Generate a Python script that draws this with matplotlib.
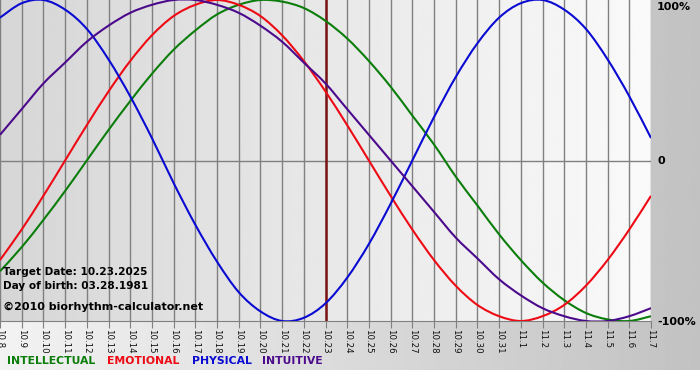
import numpy as np
import matplotlib.pyplot as plt
from matplotlib.path import Path
from matplotlib.patches import PathPatch

# dates on the x axis (10.8 .. 11.7)
days = ['10.8', '10.9', '10.10', '10.11', '10.12', '10.13', '10.14', '10.15',
        '10.16', '10.17', '10.18', '10.19', '10.20', '10.21', '10.22', '10.23',
        '10.24', '10.25', '10.26', '10.27', '10.28', '10.29', '10.30', '10.31',
        '11.1', '11.2', '11.3', '11.4', '11.5', '11.6', '11.7']

# cycle values per day (-1 .. 1)
intellectual = [-0.69, -0.54, -0.37, -0.19, 0.00, 0.19, 0.37, 0.54, 0.69, 0.81,
                0.91, 0.97, 1.00, 0.99, 0.95, 0.87, 0.76, 0.62, 0.46, 0.28,
                0.10, -0.10, -0.28, -0.46, -0.62, -0.76, -0.87, -0.95, -0.99,
                -1.00, -0.97]
emotional = [-0.62, -0.43, -0.22, 0.00, 0.22, 0.43, 0.62, 0.78, 0.90, 0.97,
             1.00, 0.97, 0.90, 0.78, 0.62, 0.43, 0.22, 0.00, -0.22, -0.43,
             -0.62, -0.78, -0.90, -0.97, -1.00, -0.97, -0.90, -0.78, -0.62,
             -0.43, -0.22]
physical = [0.89, 0.98, 1.00, 0.94, 0.82, 0.63, 0.40, 0.14, -0.14, -0.40,
            -0.63, -0.82, -0.94, -1.00, -0.98, -0.89, -0.73, -0.52, -0.27, 0.00,
            0.27, 0.52, 0.73, 0.89, 0.98, 1.00, 0.94, 0.82, 0.63, 0.40, 0.14]
intuitive = [0.16, 0.32, 0.48, 0.61, 0.74, 0.84, 0.92, 0.97, 1.00, 1.00,
             0.97, 0.92, 0.84, 0.74, 0.61, 0.48, 0.32, 0.16, 0.00, -0.16,
             -0.32, -0.48, -0.61, -0.74, -0.84, -0.92, -0.97, -1.00, -1.00,
             -0.97, -0.92]

target_day = '10.23'
info_lines = ['Target Date: 10.23.2025', 'Day of birth: 03.28.1981']
credit = '\u00a92010 biorhythm-calculator.net'
y_labels = ['100%', '0', '-100%']

series = [('INTELLECTUAL', intellectual, '#0a7d0a'),
          ('EMOTIONAL', emotional, '#ee0a14'),
          ('PHYSICAL', physical, '#0a0ad2'),
          ('INTUITIVE', intuitive, '#4b0a8c')]


def smooth_path(xs, ys):
    # curved line through the daily points (Catmull-Rom as cubic Beziers)
    pts = np.column_stack([xs, ys]).astype(float)
    ext = np.vstack([pts[0], pts, pts[-1]])
    verts = [pts[0]]
    codes = [Path.MOVETO]
    for i in range(len(pts) - 1):
        p0, p1, p2, p3 = ext[i], ext[i + 1], ext[i + 2], ext[i + 3]
        verts += [p1 + (p2 - p0) / 6, p2 - (p3 - p1) / 6, p2]
        codes += [Path.CURVE4] * 3
    return Path(verts, codes)


W, H = 700, 380
fig = plt.figure(figsize=(W / 100, H / 100), dpi=100)
fig.patch.set_facecolor('white')

# background band with horizontal gradient (light left -> grey right)
bg = fig.add_axes([0, 10 / H, 1, 370 / H])
bg.imshow(np.linspace(0.95, 0.76, 256)[None, :], cmap='gray', vmin=0, vmax=1,
          aspect='auto', extent=[0, 1, 0, 1])
bg.axis('off')

# plot area
ax = fig.add_axes([0, 1 - 321 / H, 651 / W, 321 / H])
ax.patch.set_alpha(0)
x = np.arange(len(days))
ax.imshow(np.linspace(0.84, 0.98, 256)[None, :], cmap='gray', vmin=0, vmax=1,
          aspect='auto', extent=[x[0], x[-1], -1, 1], zorder=0)
ax.set_xlim(x[0], x[-1])
ax.set_ylim(-1, 1)

ax.set_xticks(x)
ax.set_xticklabels(days, rotation=-90, fontsize=6.2, color='#101010')
ax.tick_params(axis='x', length=5, color='#808080', pad=1)
ax.set_yticks([])
ax.grid(axis='x', color='#808080', lw=1, zorder=1)
ax.axhline(0, color='#808080', lw=1, zorder=1)
for s in ['top', 'left', 'right']:
    ax.spines[s].set_visible(False)
ax.spines['bottom'].set_color('#808080')

ax.axvline(days.index(target_day), color='#7a1414', lw=1.8, zorder=2)

for name, vals, col in series:
    ax.add_patch(PathPatch(smooth_path(x, vals), facecolor='none',
                           edgecolor=col, lw=1.5, zorder=3))

# y labels on the right
for lab, yp in zip(y_labels, [7, 161, 322]):
    fig.text(657 / W, 1 - yp / H, lab, fontsize=8, fontweight='bold',
             va='center', ha='left')

# info text inside plot
for txt, yp in zip(info_lines, [272, 286]):
    fig.text(3 / W, 1 - yp / H, txt, fontsize=7.6, fontweight='bold',
             va='center', ha='left', zorder=5)
fig.text(3 / W, 1 - 307 / H, credit, fontsize=8, fontweight='bold',
         va='center', ha='left', zorder=5)

# legend row
for (name, vals, col), xp in zip(series, [7, 107, 192, 262]):
    fig.text(xp / W, 1 - 361 / H, name, color=col, fontsize=7.8,
             fontweight='bold', va='center', ha='left')

fig.savefig('out.png', dpi=100)
